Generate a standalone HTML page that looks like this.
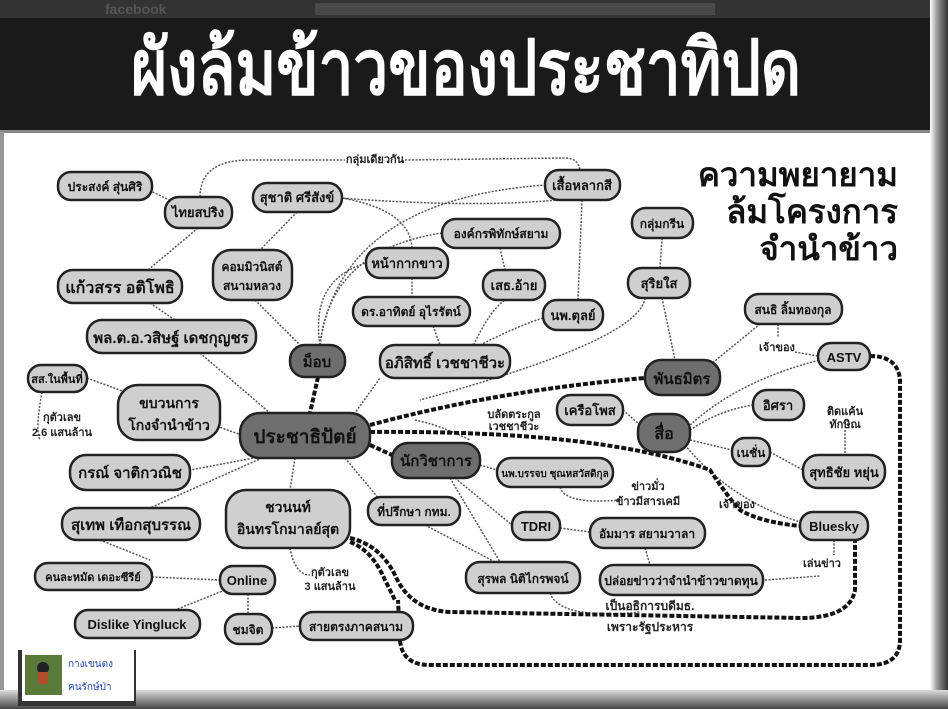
<!DOCTYPE html>
<html><head><meta charset="utf-8"><style>
html,body{margin:0;padding:0;width:948px;height:709px;overflow:hidden;background:#fff}
svg{display:block}
text{font-family:"Liberation Sans","Noto Sans CJK SC",sans-serif;font-weight:bold}
</style></head><body>
<svg width="948" height="709" viewBox="0 0 948 709" xmlns="http://www.w3.org/2000/svg">
<defs>
<linearGradient id="rg" x1="0" x2="1"><stop offset="0" stop-color="#fff"/><stop offset="0.4" stop-color="#999"/><stop offset="1" stop-color="#333"/></linearGradient>
<linearGradient id="bg" x1="0" y1="0" x2="0" y2="1"><stop offset="0" stop-color="#ddd"/><stop offset="1" stop-color="#444"/></linearGradient>
</defs>
<rect width="948" height="709" fill="#fff"/>
<rect x="0" y="0" width="948" height="132" fill="#1a1a1a"/>
<rect x="0" y="0" width="948" height="18" fill="#333"/>
<rect x="315" y="3" width="400" height="12" fill="#4a4a4a"/>
<text x="105" y="14" font-size="14" fill="#555">facebook</text>
<text x="466" y="94" font-size="76" fill="#fff" stroke="#fff" stroke-width="2.5" text-anchor="middle" textLength="670" lengthAdjust="spacingAndGlyphs" style="font-weight:normal">ผังล้มข้าวของประชาทิปด</text>
<rect x="0" y="130" width="948" height="3" fill="#888"/>
<rect x="0" y="132" width="4" height="577" fill="#999"/>
<rect x="930" y="0" width="18" height="709" fill="url(#rg)"/>
<rect x="0" y="690" width="948" height="19" fill="url(#bg)"/>

<g fill="none" stroke="#555" stroke-width="1.5" stroke-dasharray="2 1.5">
<path d="M140 186 L180 205"/>
<path d="M198 228 L148 270"/>
<path d="M200 197 Q200 160 250 160 L345 160"/>
<path d="M405 160 L565 158 Q578 158 580 170"/>
<path d="M297 212 L260 250"/>
<path d="M255 300 L300 345"/>
<path d="M150 303 L175 320"/>
<path d="M200 353 L270 413"/>
<path d="M87 378 L125 392"/>
<path d="M42 392 Q35 430 40 440"/>
<path d="M340 198 Q500 210 590 196"/>
<path d="M342 198 Q410 210 412 248"/>
<path d="M320 345 Q310 280 366 263"/>
<path d="M320 345 Q330 250 442 233"/>
<path d="M320 345 Q340 200 545 185"/>
<path d="M412 278 L412 297"/>
<path d="M433 326 L440 345"/>
<path d="M500 248 L505 270"/>
<path d="M472 348 Q490 310 505 300"/>
<path d="M480 345 Q520 325 543 318"/>
<path d="M582 200 L578 300"/>
<path d="M662 238 L660 268"/>
<path d="M645 298 Q640 340 420 400"/>
<path d="M662 298 L675 360"/>
<path d="M710 365 L760 324"/>
<path d="M778 324 L778 338"/>
<path d="M795 352 L818 356"/>
<path d="M690 425 Q740 380 820 360"/>
<path d="M690 430 Q720 410 753 405"/>
<path d="M623 410 L640 425"/>
<path d="M690 440 L732 450"/>
<path d="M770 452 L803 470"/>
<path d="M845 430 L845 455"/>
<path d="M685 445 Q730 500 800 522"/>
<path d="M834 540 L834 555"/>
<path d="M765 580 L820 576"/>
<path d="M255 440 L200 420"/>
<path d="M270 455 L190 470"/>
<path d="M262 458 L150 508"/>
<path d="M295 458 L290 490"/>
<path d="M345 458 L380 500"/>
<path d="M350 420 L380 378"/>
<path d="M480 465 L497 470"/>
<path d="M455 478 L512 525"/>
<path d="M450 478 L500 562"/>
<path d="M560 528 L590 532"/>
<path d="M645 548 L650 565"/>
<path d="M425 525 L495 562"/>
<path d="M560 487 Q565 505 620 500"/>
<path d="M550 593 Q560 620 640 612"/>
<path d="M100 540 L150 560"/>
<path d="M152 577 L220 580"/>
<path d="M225 590 L170 612"/>
<path d="M248 594 L248 614"/>
<path d="M272 628 L300 626"/>
<path d="M290 548 Q295 575 310 575"/>
<path d="M415 420 Q440 425 470 440"/>
</g>
<g fill="none" stroke="#111" stroke-width="4" stroke-dasharray="5 2">
<path d="M318 377 L310 413"/>
<path d="M370 425 Q500 390 645 378"/>
<path d="M370 445 L392 455"/>
<path d="M370 432 Q600 430 710 470 Q730 500 740 510 Q760 522 800 526"/>
<path d="M870 356 Q898 356 900 380 L900 640 Q900 665 870 665 L430 665 Q402 665 400 640 L398 600"/>
<path d="M350 538 Q380 545 395 575 Q410 610 450 612 L800 618 Q850 618 855 590 L855 540"/>
<path d="M350 542 Q372 550 385 580 L395 600"/>
</g>

<g stroke="#222" stroke-width="2.5">
<rect x="58" y="172" width="94" height="28" rx="13" fill="#cfcfcf"/>
<rect x="165" y="197" width="67" height="31" rx="14" fill="#cfcfcf"/>
<rect x="253" y="183" width="89" height="29" rx="14" fill="#cfcfcf"/>
<rect x="213" y="250" width="79" height="50" rx="18" fill="#cfcfcf"/>
<rect x="58" y="270" width="124" height="33" rx="15" fill="#cfcfcf"/>
<rect x="87" y="320" width="169" height="33" rx="15" fill="#cfcfcf"/>
<rect x="290" y="345" width="55" height="32" rx="15" fill="#6e6e6e"/>
<rect x="380" y="345" width="130" height="33" rx="15" fill="#cfcfcf"/>
<rect x="366" y="248" width="82" height="30" rx="14" fill="#cfcfcf"/>
<rect x="353" y="297" width="117" height="29" rx="14" fill="#cfcfcf"/>
<rect x="442" y="219" width="118" height="29" rx="14" fill="#cfcfcf"/>
<rect x="545" y="170" width="75" height="30" rx="14" fill="#cfcfcf"/>
<rect x="483" y="270" width="62" height="30" rx="14" fill="#cfcfcf"/>
<rect x="543" y="300" width="60" height="30" rx="14" fill="#cfcfcf"/>
<rect x="632" y="208" width="61" height="30" rx="14" fill="#cfcfcf"/>
<rect x="628" y="268" width="62" height="30" rx="14" fill="#cfcfcf"/>
<rect x="645" y="360" width="75" height="35" rx="16" fill="#6e6e6e"/>
<rect x="745" y="294" width="97" height="30" rx="14" fill="#cfcfcf"/>
<rect x="818" y="343" width="52" height="27" rx="13" fill="#cfcfcf"/>
<rect x="753" y="390" width="51" height="30" rx="14" fill="#cfcfcf"/>
<rect x="557" y="395" width="66" height="30" rx="14" fill="#cfcfcf"/>
<rect x="638" y="414" width="52" height="38" rx="17" fill="#6e6e6e"/>
<rect x="732" y="438" width="38" height="28" rx="13" fill="#cfcfcf"/>
<rect x="803" y="455" width="82" height="33" rx="15" fill="#cfcfcf"/>
<rect x="800" y="512" width="68" height="28" rx="13" fill="#cfcfcf"/>
<rect x="240" y="413" width="130" height="45" rx="20" fill="#6e6e6e"/>
<rect x="392" y="443" width="88" height="35" rx="16" fill="#6e6e6e"/>
<rect x="497" y="458" width="116" height="29" rx="14" fill="#cfcfcf"/>
<rect x="512" y="512" width="48" height="28" rx="13" fill="#cfcfcf"/>
<rect x="590" y="518" width="115" height="30" rx="14" fill="#cfcfcf"/>
<rect x="600" y="565" width="163" height="30" rx="14" fill="#cfcfcf"/>
<rect x="466" y="562" width="114" height="31" rx="14" fill="#cfcfcf"/>
<rect x="368" y="497" width="92" height="28" rx="13" fill="#cfcfcf"/>
<rect x="226" y="490" width="124" height="58" rx="20" fill="#cfcfcf"/>
<rect x="118" y="385" width="102" height="55" rx="20" fill="#cfcfcf"/>
<rect x="28" y="365" width="59" height="27" rx="13" fill="#cfcfcf"/>
<rect x="70" y="455" width="120" height="35" rx="16" fill="#cfcfcf"/>
<rect x="62" y="508" width="138" height="32" rx="15" fill="#cfcfcf"/>
<rect x="35" y="563" width="117" height="27" rx="13" fill="#cfcfcf"/>
<rect x="220" y="566" width="55" height="28" rx="13" fill="#cfcfcf"/>
<rect x="75" y="610" width="125" height="28" rx="13" fill="#cfcfcf"/>
<rect x="225" y="614" width="47" height="30" rx="14" fill="#cfcfcf"/>
<rect x="300" y="612" width="113" height="28" rx="13" fill="#cfcfcf"/>
</g>

<g font-size="13" fill="#111" text-anchor="middle">
<text x="105" y="191" font-size="12">ประสงค์ สุ่นศิริ</text>
<text x="198" y="217">ไทยสปริง</text>
<text x="297" y="202">สุชาติ ศรีสังข์</text>
<text x="252" y="271" font-size="12">คอมมิวนิสต์</text>
<text x="252" y="290" font-size="12">สนามหลวง</text>
<text x="120" y="293" font-size="16">แก้วสรร อติโพธิ</text>
<text x="171" y="343" font-size="15">พล.ต.อ.วสิษฐ์ เดชกุญชร</text>
<text x="317" y="367" font-size="15">ม็อบ</text>
<text x="445" y="368" font-size="15">อภิสิทธิ์ เวชชาชีวะ</text>
<text x="407" y="268">หน้ากากขาว</text>
<text x="411" y="316" font-size="12">ดร.อาทิตย์ อุไรรัตน์</text>
<text x="501" y="238" font-size="12">องค์กรพิทักษ์สยาม</text>
<text x="582" y="190">เสื้อหลากสี</text>
<text x="514" y="290">เสธ.อ้าย</text>
<text x="573" y="320">นพ.ตุลย์</text>
<text x="662" y="228" font-size="12">กลุ่มกรีน</text>
<text x="659" y="288">สุริยใส</text>
<text x="682" y="384" font-size="15">พันธมิตร</text>
<text x="793" y="314" font-size="12">สนธิ ลิ้มทองกุล</text>
<text x="844" y="362">ASTV</text>
<text x="778" y="410">อิศรา</text>
<text x="590" y="415">เครือโพส</text>
<text x="664" y="439" font-size="16">สื่อ</text>
<text x="751" y="457" font-size="12">เนชั่น</text>
<text x="844" y="477">สุทธิชัย หยุ่น</text>
<text x="834" y="531">Bluesky</text>
<text x="305" y="443" font-size="19">ประชาธิปัตย์</text>
<text x="436" y="466" font-size="15">นักวิชาการ</text>
<text x="555" y="477" font-size="10">นพ.บรรจบ ชุณหสวัสดิกุล</text>
<text x="536" y="531">TDRI</text>
<text x="647" y="538" font-size="12">อัมมาร สยามวาลา</text>
<text x="681" y="585" font-size="12">ปล่อยข่าวว่าจำนำข้าวขาดทุน</text>
<text x="523" y="583" font-size="12">สุรพล  นิติไกรพจน์</text>
<text x="414" y="516" font-size="12">ที่ปรึกษา กทม.</text>
<text x="288" y="512" font-size="14">ชวนนท์</text>
<text x="288" y="534" font-size="14">อินทรโกมาลย์สุต</text>
<text x="169" y="408" font-size="14">ขบวนการ</text>
<text x="169" y="430" font-size="14">โกงจำนำข้าว</text>
<text x="57" y="383" font-size="11">สส.ในพื้นที่</text>
<text x="130" y="478" font-size="15">กรณ์ จาติกวณิช</text>
<text x="131" y="530" font-size="15">สุเทพ เทือกสุบรรณ</text>
<text x="93" y="581" font-size="11">คนละหมัด เดอะซีรีย์</text>
<text x="247" y="585">Online</text>
<text x="137" y="629">Dislike Yingluck</text>
<text x="248" y="634" font-size="12">ชมจิต</text>
<text x="356" y="631" font-size="12">สายตรงภาคสนาม</text>
</g>
<g font-size="11" fill="#222" text-anchor="middle" style="font-weight:normal">
<text x="375" y="163">กลุ่มเดียวกัน</text>
<text x="62" y="421">กุตัวเลข</text>
<text x="62" y="436">2.6 แสนล้าน</text>
<text x="514" y="418">บลัดตระกูล</text>
<text x="514" y="430">เวชชาชีวะ</text>
<text x="648" y="490">ข่าวมั่ว</text>
<text x="648" y="505">ข้าวมีสารเคมี</text>
<text x="737" y="508">เจ้าของ</text>
<text x="777" y="351">เจ้าของ</text>
<text x="845" y="415">ติดแค้น</text>
<text x="845" y="428">ทักษิณ</text>
<text x="822" y="567">เล่นข่าว</text>
<text x="330" y="576">กุตัวเลข</text>
<text x="330" y="590">3 แสนล้าน</text>
<text x="650" y="610" font-size="12">เป็นอธิการบดีมธ.</text>
<text x="650" y="631" font-size="12">เพราะรัฐประหาร</text>
</g>
<g font-size="33" fill="#111" text-anchor="end" style="font-weight:normal">
<text x="898" y="186">ความพยายาม</text>
<text x="898" y="223">ล้มโครงการ</text>
<text x="898" y="260">จำนำข้าว</text>
</g>
<rect x="18" y="650" width="118" height="56" fill="#333"/>
<rect x="22" y="648" width="112" height="53" fill="#fff"/>
<rect x="25" y="655" width="37" height="40" fill="#5a7a3a"/>
<circle cx="43" cy="668" r="6" fill="#222"/><rect x="38" y="672" width="10" height="12" fill="#b0502a"/>
<text x="68" y="667" font-size="10" fill="#2244aa" style="font-weight:normal">กางเขนดง</text>
<text x="68" y="690" font-size="10" fill="#2244aa" style="font-weight:normal">คนรักษ์ป่า</text>
</svg>
</body></html>
